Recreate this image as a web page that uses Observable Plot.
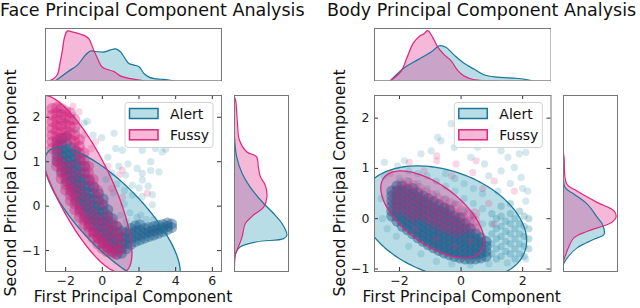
<!DOCTYPE html>
<html><head><meta charset="utf-8">
<script src="https://cdn.jsdelivr.net/npm/d3@7"></script>
<script src="https://cdn.jsdelivr.net/npm/@observablehq/plot@0.6"></script>
<style>
body{margin:0;background:#fff;}
#root{position:relative;width:640px;height:308px;overflow:hidden;font-family:"DejaVu Sans";}
</style></head><body><div id="root"></div>
<script>
// ---------- data ----------
const series = ["Alert", "Fussy"];
const titles = ["Face Principal Component Analysis", "Body Principal Component Analysis"];
const xLabel = "First Principal Component";
const yLabel = "Second Principal Component";

const faceXTicks = [-2, 0, 2, 4, 6];
const faceYTicks = [-1, 0, 1, 2];
const bodyXTicks = [-2, 0, 2];
const bodyYTicks = [-1, 0, 1, 2];
const faceXDomain = [-3.1, 6.5];
const faceYDomain = [-1.47, 2.49];
const bodyXDomain = [-2.81, 2.92];
const bodyYDomain = [-1.05, 2.45];

// scatter clouds (x, list of y)
const faceAlertCols = [
 [-2.45,[1.0,1.12,1.24,1.36,1.48]],
 [-2.2,[0.78,0.9,1.02,1.14,1.26,1.38,1.52]],
 [-1.95,[0.56,0.68,0.8,0.92,1.04,1.16,1.28,1.42,1.58]],
 [-1.7,[0.34,0.46,0.58,0.7,0.82,0.94,1.06,1.18,1.32]],
 [-1.45,[0.12,0.24,0.36,0.48,0.6,0.72,0.84,0.96,1.1,1.24]],
 [-1.2,[-0.08,0.04,0.16,0.28,0.4,0.52,0.64,0.76,0.9,1.04]],
 [-0.95,[-0.26,-0.14,-0.02,0.1,0.22,0.34,0.46,0.6,0.74,0.9]],
 [-0.7,[-0.42,-0.3,-0.18,-0.06,0.06,0.18,0.3,0.44,0.58]],
 [-0.45,[-0.57,-0.45,-0.33,-0.21,-0.09,0.03,0.15,0.28,0.42]],
 [-0.2,[-0.72,-0.6,-0.48,-0.36,-0.24,-0.12,0.0,0.13,0.28]],
 [0.05,[-0.84,-0.72,-0.6,-0.48,-0.36,-0.24,-0.12,0.02,0.16]],
 [0.3,[-0.94,-0.82,-0.7,-0.58,-0.46,-0.34,-0.22,-0.08]],
 [0.55,[-1.02,-0.9,-0.78,-0.66,-0.54,-0.42,-0.28]],
 [0.8,[-1.08,-0.96,-0.84,-0.72,-0.6,-0.46]],
 [1.05,[-1.06,-0.94,-0.82,-0.7,-0.56]],
 [1.3,[-0.96,-0.84,-0.72,-0.6]],
 [1.55,[-0.86,-0.74,-0.62,-0.5]],
 [1.8,[-0.8,-0.68,-0.56,-0.44]],
 [2.05,[-0.76,-0.65,-0.54,-0.42]],
 [2.3,[-0.72,-0.61,-0.5]],
 [2.55,[-0.68,-0.58,-0.48]],
 [2.8,[-0.65,-0.55,-0.46]],
 [3.05,[-0.61,-0.52,-0.43]],
 [3.3,[-0.57,-0.49,-0.41]],
 [3.55,[-0.53,-0.45,-0.38]],
 [3.78,[-0.48,-0.4]]
];
const faceAlertSparse = [[0.64,1.64],[0.73,1.3],[1.09,1.26],[2.18,1.26],[3.27,1.22],[3.45,1.28],[2.64,1.0],[2.18,0.74],[2.64,0.8],[3.09,0.77],[2.18,0.59],[1.64,0.47],[1.27,0.7],[2.0,0.41],[2.73,0.26],[2.73,0.03],[2.18,0.22],[1.64,0.25],[-0.82,1.91],[-0.04,1.54],[-1.0,1.87],[0.3,1.1],[0.9,0.9],[1.4,0.95],[1.9,0.85],[2.5,0.45],[1.2,0.35],[0.8,0.5],[1.5,-0.15],[1.9,-0.25],[2.4,-0.3],[1.2,0.05],[2.9,1.3],[0.5,0.75],[-0.5,1.6],[-1.6,2.05],[-2.0,1.9],[-2.3,2.1],[-1.4,1.7],[0.2,0.6],[1.0,-0.2],[1.3,-0.35],[2.1,-0.2],[2.8,-0.3],[0.6,0.3]];
const faceFussyCols = [
 [-2.75,[1.3,1.45,1.6,1.75,1.9,2.05,2.2]],
 [-2.5,[0.9,1.03,1.16,1.3,1.43,1.56,1.7,1.83,1.96,2.1,2.22]],
 [-2.25,[0.62,0.75,0.88,1.0,1.4,1.53,1.66,1.8,1.93,2.06,2.2]],
 [-2.0,[0.36,0.49,0.62,0.75,1.55,1.7,1.85,2.0,2.14]],
 [-1.75,[0.12,0.25,0.38,0.5,0.9,1.5,1.65,1.8,1.95,2.1]],
 [-1.5,[-0.08,0.05,0.18,0.3,0.7,1.3,1.45,1.6,1.78,1.95]],
 [-1.25,[-0.25,-0.12,0.0,0.45,1.05,1.2,1.35,1.5]],
 [-1.0,[-0.42,-0.3,-0.18,0.25,0.75,0.9,1.05,1.2]],
 [-0.75,[-0.58,-0.46,-0.34,0.05,0.6,0.75,0.9]],
 [-0.5,[-0.72,-0.6,-0.48,-0.15,0.45,0.6]],
 [-0.25,[-0.85,-0.73,-0.61,-0.3,0.2,0.35]],
 [0.0,[-0.95,-0.83,-0.71,-0.4,0.05]],
 [0.25,[-1.02,-0.9,-0.78,-0.5,-0.2]],
 [0.5,[-1.06,-0.94,-0.6,-0.35]],
 [0.75,[-1.08,-0.96,-0.7,-0.45]],
 [1.0,[-0.98,-0.8,-0.6]]
];
const faceFussySparse = [[-1.91,2.09],[-1.27,2.12],[-0.37,1.45],[1.09,0.81],[2.45,0.29],[-0.6,1.3],[0.3,0.9],[0.9,0.7],[1.1,0.2],[-1.6,2.25],[-2.4,2.3],[-1.0,1.6],[0.5,0.4]];

const bodyAlertCols = [
 [-2.25,[0.05,0.15,0.25,0.35,0.45,0.55]],
 [-2.08,[-0.05,0.05,0.15,0.25,0.35,0.45,0.55,0.65]],
 [-1.91,[-0.15,-0.05,0.05,0.15,0.25,0.35,0.45,0.55,0.65]],
 [-1.74,[-0.22,-0.12,-0.02,0.08,0.18,0.28,0.38,0.48,0.58]],
 [-1.57,[-0.3,-0.2,-0.1,0.0,0.1,0.2,0.3,0.4,0.5,0.6]],
 [-1.4,[-0.38,-0.28,-0.18,-0.08,0.02,0.12,0.22,0.32,0.42,0.52]],
 [-1.23,[-0.45,-0.35,-0.25,-0.15,-0.05,0.05,0.15,0.25,0.35,0.45]],
 [-1.06,[-0.52,-0.42,-0.32,-0.22,-0.12,-0.02,0.08,0.18,0.28,0.4]],
 [-0.89,[-0.58,-0.48,-0.38,-0.28,-0.18,-0.08,0.02,0.12,0.22,0.34]],
 [-0.72,[-0.63,-0.53,-0.43,-0.33,-0.23,-0.13,-0.03,0.07,0.17,0.28]],
 [-0.55,[-0.68,-0.58,-0.48,-0.38,-0.28,-0.18,-0.08,0.02,0.12,0.22]],
 [-0.38,[-0.72,-0.62,-0.52,-0.42,-0.32,-0.22,-0.12,-0.02,0.08,0.18]],
 [-0.21,[-0.75,-0.65,-0.55,-0.45,-0.35,-0.25,-0.15,-0.05,0.05]],
 [-0.04,[-0.78,-0.68,-0.58,-0.48,-0.38,-0.28,-0.18,-0.08,0.02]],
 [0.13,[-0.8,-0.7,-0.6,-0.5,-0.4,-0.3,-0.2,-0.1]],
 [0.3,[-0.8,-0.7,-0.6,-0.5,-0.4,-0.3,-0.2]],
 [0.47,[-0.8,-0.7,-0.6,-0.5,-0.4,-0.3]],
 [0.64,[-0.78,-0.68,-0.58,-0.48,-0.38]],
 [0.81,[-0.75,-0.65,-0.55,-0.45]]
];
const bodyAlertMid = [
 [1.0,[-0.7,-0.5,-0.3,-0.1,0.1]],
 [1.15,[-0.8,-0.6,-0.4,-0.2,0.0]],
 [1.3,[-0.75,-0.55,-0.35,-0.15,0.05,0.25]],
 [1.45,[-0.65,-0.45,-0.25,-0.05]],
 [1.6,[-0.7,-0.5,-0.3,-0.1,0.1,0.3]],
 [1.75,[-0.8,-0.6,-0.4,-0.2,0.0]],
 [1.9,[-0.7,-0.5,-0.3,-0.1,0.15]],
 [2.05,[-0.75,-0.55,-0.35,-0.15,0.05]],
 [2.2,[-0.6,-0.4,-0.2,0.0]]
];
const bodyAlertSparse = [[-2.0,0.8],[-1.7,0.75],[-1.7,0.95],[-1.4,0.7],[-1.4,0.9],[-1.1,0.6],[-1.1,0.85],[-0.8,0.5],[-0.8,0.75],[-0.5,0.4],[-0.5,0.65],[-0.5,0.9],[-0.2,0.3],[-0.2,0.55],[-0.2,0.8],[0.1,0.15],[0.1,0.4],[0.1,0.7],[0.4,0.05],[0.4,0.3],[0.4,0.6],[0.7,-0.1],[0.7,0.2],[0.7,0.5],
 [-0.32,1.89],[0.0,1.95],[0.32,1.69],[-0.76,1.62],[-0.65,1.55],[0.97,1.82],[1.08,1.65],[0.54,1.42],[1.3,1.35],[1.52,1.22],[1.89,1.29],[2.1,1.32],[1.73,1.02],[1.95,0.82],[2.16,0.55],[0.32,1.22],[-1.3,1.29],[-1.84,1.15],[-2.49,1.12],[-2.06,1.05],[-0.97,1.35],[-0.22,1.42],[0.76,1.09],[1.3,0.95],[0.9,0.85],[1.6,0.7],[2.0,0.6],[1.2,0.55],[2.1,0.35],[-2.5,0.85],[-2.6,0.4],[-2.55,0.0],[-2.4,-0.2],[-2.1,-0.35],[-1.7,-0.55],[-1.3,-0.7],[-0.8,-0.85],[-0.3,-0.9],[0.3,-0.92],[0.9,-0.9],[1.5,-0.88],[2.1,-0.8]];
const bodyFussyCols = [
 [-2.15,[0.15,0.28,0.42,0.55]],
 [-1.95,[0.18,0.31,0.44,0.57,0.7]],
 [-1.75,[0.08,0.21,0.34,0.47,0.6,0.72]],
 [-1.55,[0.01,0.14,0.27,0.4,0.53,0.66]],
 [-1.35,[0.06,0.19,0.32,0.45,0.6]],
 [-1.15,[-0.01,0.12,0.25,0.38,0.52]],
 [-0.95,[-0.07,0.06,0.19,0.32,0.46]],
 [-0.75,[-0.14,-0.01,0.12,0.25,0.4]],
 [-0.55,[-0.19,-0.06,0.07,0.2,0.35]],
 [-0.35,[-0.24,-0.11,0.02,0.15,0.3]],
 [-0.15,[-0.29,-0.16,-0.03,0.1,0.25]],
 [0.05,[-0.24,-0.11,0.02,0.15]],
 [0.25,[-0.19,-0.06,0.08]],
 [0.45,[-0.2,-0.05,0.1]]
];
const bodyFussySparse = [[-1.68,1.12],[-0.79,1.25],[-0.79,1.15],[-0.16,1.09],[0.49,1.15],[0.38,0.92],[1.08,0.75],[1.73,0.55],[1.08,-0.11],[0.7,0.6],[0.9,0.3],[-0.3,0.85],[-1.2,0.95],[-2.3,0.9],[-1.5,-0.2],[-0.8,-0.4],[-0.2,-0.55],[0.3,-0.45]];

// confidence ellipses: centre x, centre y, conjugate semi-diameters (ux, uy, vx, vy)
const faceAlertEllipse = [0.55, -0.25, -2.9, 1.57, 2.3, 0];
const faceFussyEllipse = [-1.1, 0.5, 2.1, -2.0, 1.72, 0];
const bodyAlertEllipse = [-0.56, -0.08, -0.85, 1.13, 2.55, 0];
const bodyFussyEllipse = [-0.93, 0.085, -1.02, 0.865, 1.33, 0];

// marginal densities (value, relative density)
const faceTopAlert = [[-2.55,0],[-1.9,0.17],[-1.36,0.3],[-0.9,0.5],[-0.64,0.57],[-0.37,0.56],[0.09,0.55],[0.45,0.59],[0.73,0.61],[1.0,0.55],[1.25,0.42],[1.45,0.33],[1.72,0.3],[2.0,0.27],[2.27,0.14],[2.55,0.07],[2.82,0.04],[3.2,0.03],[3.55,0.02],[3.9,0]];
const faceTopFussy = [[-2.91,0],[-2.7,0.03],[-2.46,0.11],[-2.3,0.35],[-2.18,0.58],[-2.05,0.85],[-1.91,0.95],[-1.6,0.93],[-1.18,0.89],[-0.9,0.85],[-0.73,0.8],[-0.46,0.58],[-0.2,0.38],[-0.09,0.3],[0.09,0.24],[0.64,0.175],[1.0,0.09],[1.55,0.04],[2.27,0]];
const faceRightAlert = [[1.56,0],[1.11,0.04],[0.74,0.14],[0.43,0.29],[0.06,0.54],[-0.16,0.72],[-0.39,0.88],[-0.65,0.97],[-0.73,0.91],[-0.8,0.41],[-0.92,0.1],[-1.07,0.02],[-1.15,0]];
const faceRightFussy = [[2.45,0],[2.39,0.02],[1.86,0.055],[1.49,0.09],[1.22,0.23],[1.11,0.41],[0.89,0.44],[0.66,0.48],[0.47,0.57],[0.21,0.6],[-0.02,0.54],[-0.2,0.35],[-0.39,0.2],[-0.69,0.14],[-0.92,0.07],[-1.07,0.02],[-1.37,0]];
const bodyTopAlert = [[-2.3,0],[-1.84,0.25],[-1.41,0.4],[-0.97,0.55],[-0.7,0.67],[-0.49,0.64],[-0.22,0.49],[0.11,0.33],[0.43,0.22],[0.76,0.11],[1.19,0.07],[1.73,0.05],[2.06,0.03],[2.3,0]];
const bodyTopFussy = [[-2.3,0],[-1.95,0.18],[-1.75,0.45],[-1.55,0.72],[-1.35,0.85],[-1.2,0.9],[-1.08,0.96],[-0.92,0.83],[-0.76,0.65],[-0.55,0.5],[-0.32,0.38],[-0.11,0.2],[0.1,0.09],[0.3,0.04],[0.6,0.01],[1.2,0]];
const bodyRightAlert = [[1.29,0],[0.62,0.03],[0.49,0.19],[0.29,0.44],[0.02,0.63],[-0.11,0.72],[-0.31,0.75],[-0.41,0.56],[-0.58,0.25],[-0.75,0.09],[-0.9,0]];
const bodyRightFussy = [[1.29,0],[1.22,0.01],[0.69,0.06],[0.55,0.25],[0.32,0.63],[0.15,0.94],[0.02,0.97],[-0.08,0.88],[-0.25,0.44],[-0.38,0.19],[-0.58,0.09],[-0.78,0.02],[-0.85,0]];

// ---------- styling ----------
const LINE = {Alert: "#1b7898", Fussy: "#e0257c"};
const FILL = {Alert: "#47a6bc", Fussy: "#e8449a"};
const DOT = {Alert: "#22638f", Fussy: "#d3217a"};
const SPARSE = {Alert: "#2a8aa8", Fussy: "#e0307f"};
const FILL_OP = 0.38;
const FRAME = "#777";
const FONT = "DejaVu Sans";

const root = document.getElementById("root");
const flat = cols => cols.flatMap(([x, ys]) => ys.map(y => [x, y]));
const ellipse = ([cx, cy, ux, uy, vx, vy]) => d3.range(180).map(i => {
  const t = 2 * Math.PI * i / 180;
  return [cx + ux * Math.cos(t) + vx * Math.sin(t), cy + uy * Math.cos(t) + vy * Math.sin(t)];
});
const fmt = d => d < 0 ? "\u2212" + Math.abs(d) : String(d);
function place(el, left, top) {
  el.style.position = "absolute";
  el.style.left = left + "px";
  el.style.top = top + "px";
  root.appendChild(el);
}
const X = d => d[0], Y = d => d[1];

const panels = [
  {xDomain: faceXDomain, yDomain: faceYDomain, xTicks: faceXTicks, yTicks: faceYTicks,
   left: 45, top: 95, w: 176, h: 176, rightLeft: 234.3, rightW: 54, topTop: 27.7, topH: 52.3,
   core: {Alert: flat(faceAlertCols), Fussy: flat(faceFussyCols)},
   mid: {Alert: [], Fussy: []},
   coreOp: {Alert: 0.46, Fussy: 0.38},
   sparse: {Alert: faceAlertSparse, Fussy: faceFussySparse},
   ell: {Alert: faceAlertEllipse, Fussy: faceFussyEllipse},
   topD: {Alert: faceTopAlert, Fussy: faceTopFussy},
   rightD: {Alert: faceRightAlert, Fussy: faceRightFussy}},
  {xDomain: bodyXDomain, yDomain: bodyYDomain, xTicks: bodyXTicks, yTicks: bodyYTicks,
   left: 373.5, top: 95, w: 176.5, h: 176, rightLeft: 562.5, rightW: 54, topTop: 27.7, topH: 52.3,
   core: {Alert: flat(bodyAlertCols), Fussy: flat(bodyFussyCols)},
   mid: {Alert: flat(bodyAlertMid), Fussy: []},
   coreOp: {Alert: 0.5, Fussy: 0.2},
   sparse: {Alert: bodyAlertSparse, Fussy: bodyFussySparse},
   ell: {Alert: bodyAlertEllipse, Fussy: bodyFussyEllipse},
   topD: {Alert: bodyTopAlert, Fussy: bodyTopFussy},
   rightD: {Alert: bodyRightAlert, Fussy: bodyRightFussy}}
];

for (const p of panels) {
  // ----- main scatter -----
  const ml = 40, mr = 1, mt = 1, mb = 24;
  const marks = [];
  for (const s of series) {
    marks.push(Plot.line(ellipse(p.ell[s]), {x: X, y: Y, curve: "linear-closed", fill: FILL[s], fillOpacity: FILL_OP, stroke: "none", clip: true}));
  }
  for (const s of series) {
    marks.push(Plot.dot(p.sparse[s], {x: X, y: Y, r: 3.6, fill: SPARSE[s], fillOpacity: 0.2, stroke: "none", clip: true}));
    marks.push(Plot.dot(p.mid[s], {x: X, y: Y, r: 3.6, fill: SPARSE[s], fillOpacity: 0.3, stroke: "none", clip: true}));
    marks.push(Plot.dot(p.core[s], {x: X, y: Y, r: 5.5, fill: DOT[s], fillOpacity: p.coreOp[s], stroke: "none", clip: true}));
  }
  for (const s of series) {
    marks.push(Plot.line(ellipse(p.ell[s]), {x: X, y: Y, curve: "linear-closed", stroke: LINE[s], strokeWidth: 1.3, clip: true}));
  }
  const tk = 4;
  marks.push(
    Plot.tickX(p.xTicks, {x: d => d, insetTop: p.h - tk, stroke: "#333"}),
    Plot.tickX(p.xTicks, {x: d => d, insetBottom: p.h - tk, stroke: "#333"}),
    Plot.tickY(p.yTicks, {y: d => d, insetRight: p.w - tk, stroke: "#333"}),
    Plot.tickY(p.yTicks, {y: d => d, insetLeft: p.w - tk, stroke: "#333"}),
    Plot.frame({stroke: FRAME})
  );
  const main = Plot.plot({
    width: p.w + ml + mr, height: p.h + mt + mb,
    marginLeft: ml, marginRight: mr, marginTop: mt, marginBottom: mb,
    x: {domain: p.xDomain, ticks: p.xTicks, tickSize: 0, tickPadding: 5, tickFormat: fmt, label: null},
    y: {domain: p.yDomain, ticks: p.yTicks, tickSize: 0, tickPadding: 5, tickFormat: fmt, label: null},
    style: {fontFamily: FONT, fontSize: "12.5px", color: "#222", background: "transparent", overflow: "visible"},
    marks
  });
  place(main, p.left - ml, p.top - mt);

  // ----- top marginal -----
  const topMarks = [];
  for (const s of series) topMarks.push(Plot.areaY(p.topD[s], {x: X, y: Y, curve: "catmull-rom", fill: FILL[s], fillOpacity: FILL_OP, clip: true}));
  for (const s of series) topMarks.push(Plot.lineY(p.topD[s], {x: X, y: Y, curve: "catmull-rom", stroke: LINE[s], strokeWidth: 1.2, clip: true}));
  topMarks.push(Plot.frame({stroke: FRAME}));
  const topPlot = Plot.plot({
    width: p.w + 2, height: p.topH + 2, margin: 1,
    x: {domain: p.xDomain, axis: null}, y: {domain: [0, 1], axis: null},
    style: {background: "transparent"},
    marks: topMarks
  });
  place(topPlot, p.left - 1, p.topTop - 1);

  // ----- right marginal -----
  const rMarks = [];
  for (const s of series) rMarks.push(Plot.areaX(p.rightD[s], {y: X, x: Y, curve: "catmull-rom", fill: FILL[s], fillOpacity: FILL_OP, clip: true}));
  for (const s of series) rMarks.push(Plot.lineX(p.rightD[s], {y: X, x: Y, curve: "catmull-rom", stroke: LINE[s], strokeWidth: 1.2, clip: true}));
  rMarks.push(Plot.frame({stroke: FRAME}));
  const rPlot = Plot.plot({
    width: p.rightW + 2, height: p.h + 2, margin: 1,
    y: {domain: p.yDomain, axis: null}, x: {domain: [0, 1], axis: null},
    style: {background: "transparent"},
    marks: rMarks
  });
  place(rPlot, p.rightLeft - 1, p.top - 1);
}

// ----- text and legends overlay -----
const ov = d3.select(root).append("svg")
  .attr("width", 640).attr("height", 308)
  .style("position", "absolute").style("left", "0px").style("top", "0px")
  .style("font-family", FONT).style("fill", "#111");
const titleX = [0, 327];
const yLabX = [15.5, 345];
const xLabC = [133, 461.7];
const legX = [125, 454.3];
titles.forEach((t, i) => {
  ov.append("text").attr("x", titleX[i]).attr("y", 15.5).attr("font-size", 17.5).text(t);
  ov.append("text").attr("transform", `translate(${yLabX[i]},183) rotate(-90)`).attr("text-anchor", "middle").attr("font-size", 15.8).text(yLabel);
  ov.append("text").attr("x", xLabC[i]).attr("y", 302).attr("text-anchor", "middle").attr("font-size", 15.5).text(xLabel);
  const g = ov.append("g").attr("transform", `translate(${legX[i]},102.5)`);
  g.append("rect").attr("width", 88).attr("height", 45).attr("rx", 3).attr("fill", "#fff").attr("fill-opacity", 0.85).attr("stroke", "#d0d0d0");
  series.forEach((s, j) => {
    const yy = 6 + j * 21.3;
    g.append("rect").attr("x", 4.5).attr("y", yy).attr("width", 28.5).attr("height", 10)
      .attr("fill", FILL[s]).attr("fill-opacity", FILL_OP).attr("stroke", LINE[s]).attr("stroke-width", 1.5);
    g.append("text").attr("x", 45).attr("y", yy + 10).attr("font-size", 14).text(s);
  });
});
</script></body></html>
